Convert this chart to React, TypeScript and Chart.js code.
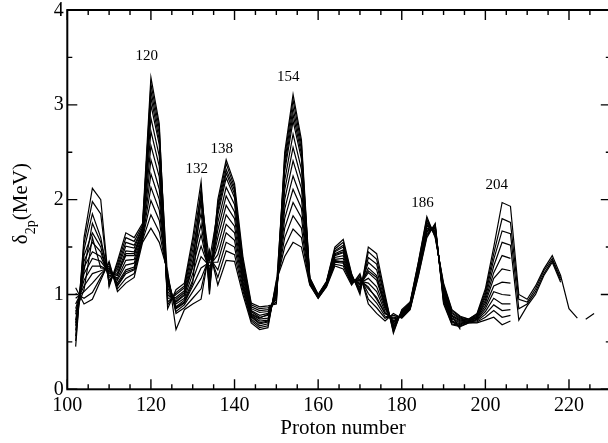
import React, { useEffect, useRef } from 'react';
import { Chart, registerables } from 'chart.js';

Chart.register(...registerables);

// Proton numbers (x categories)
const protonNumbers = [
  102, 104, 106, 108, 110, 112, 114, 116, 118, 120,
  122, 124, 126, 128, 130, 132, 134, 136, 138, 140,
  142, 144, 146, 148, 150, 152, 154, 156, 158, 160,
  162, 164, 166, 168, 170, 172, 174, 176, 178, 180,
  182, 184, 186, 188, 190, 192, 194, 196, 198, 200,
  202, 204, 206, 208, 210, 212, 214, 216, 218, 220,
  222, 224, 226,
];

// δ2p (MeV) series, one per neutron chain
const s0 = [
  0.45, 1.6, 2.12, 2.0, 1.08, 1.35, 1.65, 1.6, 1.75, 3.29,
  2.8, 0.85, 1.05, 1.12, 1.6, 2.19, 1.0, 2.0, 2.42, 2.17,
  1.4, 0.91, 0.87, 0.88, 0.9, 2.5, 3.11, 2.63, 1.18, 1.0,
  1.14, 1.5, 1.58, 1.22, 1.0, 1.5, 1.43, 1.0, 0.59, 0.84,
  0.92, 1.35, 1.82, 1.6, 1.12, 0.84, 0.77, 0.74, 0.8, 1.06,
  1.5, 1.97, 1.93, 1.0, 0.95, 1.09, 1.27, 1.41, 1.2, 0.85,
  0.75, null, null,
];
const s1 = [
  0.51, 1.54, 1.98, 1.85, 1.1, 1.32, 1.6, 1.56, 1.73, 3.15,
  2.69, 0.89, 1.02, 1.09, 1.54, 2.08, 1.04, 1.92, 2.32, 2.1,
  1.36, 0.89, 0.85, 0.86, 0.92, 2.4, 2.97, 2.53, 1.17, 1.0,
  1.13, 1.48, 1.55, 1.21, 1.02, 1.45, 1.37, 0.97, 0.61, 0.83,
  0.91, 1.34, 1.8, 1.61, 1.1, 0.83, 0.76, 0.74, 0.79, 1.03,
  1.43, 1.8, 1.76, 0.95, 0.92, 1.06, 1.25, 1.38, 1.17, null,
  null, 0.74, 0.8,
];
const s2 = [
  0.56, 1.47, 1.85, 1.6, 1.13, 1.29, 1.55, 1.52, 1.71, 3.0,
  2.58, 0.92, 1.0, 1.07, 1.47, 1.97, 1.08, 1.84, 2.23, 2.02,
  1.33, 0.87, 0.83, 0.84, 0.95, 2.3, 2.83, 2.43, 1.17, 0.99,
  1.13, 1.46, 1.52, 1.2, 1.04, 1.39, 1.32, 0.95, 0.63, 0.82,
  0.91, 1.32, 1.78, 1.63, 1.08, 0.81, 0.75, 0.73, 0.78, 1.0,
  1.37, 1.67, 1.64, 0.85, 0.9, 1.03, 1.22, 1.36, 1.15, null,
  null, null, null,
];
const s3 = [
  0.62, 1.41, 1.65, 1.5, 1.15, 1.26, 1.51, 1.49, 1.7, 2.86,
  2.46, 0.96, 0.97, 1.04, 1.41, 1.86, 1.13, 1.76, 2.13, 1.95,
  1.29, 0.85, 0.81, 0.82, 0.97, 2.2, 2.69, 2.32, 1.16, 0.99,
  1.12, 1.45, 1.5, 1.19, 1.06, 1.34, 1.26, 0.92, 0.65, 0.82,
  0.9, 1.31, 1.76, 1.64, 1.06, 0.8, 0.74, 0.73, 0.77, 0.97,
  1.3, 1.55, 1.52, 0.73, 0.88, 1.0, 1.2, 1.34, 1.13, null,
  null, null, null,
];
const s4 = [
  0.67, 1.35, 1.55, 1.45, 1.18, 1.23, 1.46, 1.45, 1.68, 2.72,
  2.35, 0.99, 0.95, 1.02, 1.35, 1.74, 1.17, 1.68, 2.04, 1.87,
  1.26, 0.83, 0.78, 0.8, 0.99, 2.1, 2.55, 2.22, 1.15, 0.99,
  1.12, 1.43, 1.47, 1.18, 1.08, 1.28, 1.2, 0.9, 0.67, 0.81,
  0.89, 1.3, 1.74, 1.65, 1.04, 0.78, 0.73, 0.72, 0.76, 0.94,
  1.23, 1.41, 1.38, null, null, null, null, null, null, null,
  null, null, null,
];
const s5 = [
  0.73, 1.29, 1.45, 1.4, 1.2, 1.21, 1.41, 1.41, 1.66, 2.57,
  2.24, 1.03, 0.92, 0.99, 1.29, 1.63, 1.21, 1.6, 1.94, 1.8,
  1.22, 0.82, 0.76, 0.78, 1.01, 2.0, 2.41, 2.12, 1.14, 0.98,
  1.11, 1.41, 1.44, 1.17, 1.1, 1.23, 1.15, 0.87, 0.68, 0.8,
  0.88, 1.28, 1.72, 1.67, 1.02, 0.77, 0.72, 0.72, 0.76, 0.91,
  1.17, 1.27, 1.25, null, null, null, null, null, null, null,
  null, null, null,
];
const s6 = [
  0.79, 1.22, 1.38, 1.35, 1.23, 1.17, 1.36, 1.37, 1.64, 2.42,
  2.11, 1.07, 0.9, 0.96, 1.22, 1.51, 1.26, 1.51, 1.84, 1.72,
  1.18, 0.79, 0.74, 0.75, 1.04, 1.9, 2.25, 2.01, 1.14, 0.98,
  1.11, 1.39, 1.41, 1.15, 1.12, 1.17, 1.08, 0.85, 0.71, 0.79,
  0.88, 1.27, 1.7, 1.68, 1.0, 0.75, 0.71, 0.72, 0.75, 0.88,
  1.09, 1.13, 1.12, null, null, null, null, null, null, null,
  null, null, null,
];
const s7 = [
  0.85, 1.15, 1.3, 1.3, 1.25, 1.15, 1.31, 1.33, 1.62, 2.27,
  2.0, 1.11, 0.87, 0.94, 1.15, 1.4, 1.3, 1.42, 1.74, 1.65,
  1.14, 0.78, 0.72, 0.73, 1.06, 1.8, 2.11, 1.91, 1.13, 0.98,
  1.1, 1.37, 1.38, 1.14, 1.14, 1.12, 1.03, 0.82, 0.72, 0.78,
  0.87, 1.25, 1.68, 1.7, 0.98, 0.74, 0.7, 0.71, 0.74, 0.85,
  1.03, 1.0, 0.99, null, null, null, null, null, null, null,
  null, null, null,
];
const s8 = [
  0.9, 1.09, 1.22, 1.25, 1.28, 1.12, 1.26, 1.29, 1.6, 2.13,
  1.89, 1.14, 0.85, 0.91, 1.09, 1.28, 1.34, 1.34, 1.65, 1.57,
  1.11, 0.76, 0.69, 0.71, 1.08, 1.7, 1.97, 1.81, 1.12, 0.97,
  1.1, 1.35, 1.35, 1.13, 1.16, 1.06, 0.97, 0.8, 0.74, 0.77,
  0.86, 1.24, 1.66, 1.71, 0.96, 0.72, 0.69, 0.71, 0.73, 0.82,
  0.96, 0.9, 0.9, null, null, null, null, null, null, null,
  null, null, null,
];
const s9 = [
  0.96, 1.03, 1.12, 1.22, 1.3, 1.09, 1.22, 1.26, 1.59, 1.99,
  1.78, 1.18, 0.82, 0.89, 1.03, 1.17, 1.39, 1.26, 1.55, 1.5,
  1.07, 0.74, 0.67, 0.69, 1.1, 1.6, 1.83, 1.7, 1.11, 0.97,
  1.09, 1.34, 1.33, 1.12, 1.18, 1.01, 0.91, 0.77, 0.76, 0.77,
  0.85, 1.23, 1.64, 1.72, 0.94, 0.71, 0.68, 0.71, 0.72, 0.79,
  0.89, 0.83, 0.84, null, null, null, null, null, null, null,
  null, null, null,
];
const s10 = [
  1.01, 0.96, 1.02, 1.18, 1.33, 1.06, 1.17, 1.22, 1.57, 1.84,
  1.66, 1.21, 0.8, 0.86, 0.96, 1.06, 1.43, 1.18, 1.46, 1.42,
  1.04, 0.72, 0.65, 0.67, 1.13, 1.5, 1.69, 1.6, 1.11, 0.96,
  1.09, 1.32, 1.3, 1.11, 1.2, 0.95, 0.86, 0.75, 0.78, 0.76,
  0.85, 1.21, 1.62, 1.74, 0.92, 0.69, 0.67, 0.7, 0.71, 0.76,
  0.83, 0.76, 0.78, null, null, null, null, null, null, null,
  null, null, null,
];
const s11 = [
  1.07, 0.9, 0.95, 1.15, 1.35, 1.03, 1.12, 1.18, 1.55, 1.7,
  1.55, 1.25, 0.63, 0.84, 0.9, 0.95, 1.47, 1.1, 1.36, 1.35,
  1.0, 0.7, 0.63, 0.65, 1.15, 1.4, 1.55, 1.5, 1.1, 0.96,
  1.08, 1.3, 1.27, 1.1, 1.22, 0.9, 0.8, 0.72, 0.8, 0.75,
  0.84, 1.2, 1.6, 1.75, 0.9, 0.68, 0.66, 0.7, 0.7, 0.73,
  0.76, 0.68, 0.72, null, null, null, null, null, null, null,
  null, null, null,
];
const s12 = [
  0.7, 1.25, 1.75, 1.55, 1.22, 1.2, 1.43, 1.43, 1.67, 3.22,
  2.75, 1.0, 0.93, 1.0, 1.3, 2.12, 1.2, 1.95, 2.38, 2.13,
  1.24, 0.8, 0.75, 0.79, 1.02, 2.45, 3.05, 2.58, 1.15, 0.98,
  1.11, 1.42, 1.45, 1.17, 1.11, 1.25, 1.18, 0.88, 0.7, 0.8,
  0.88, 1.29, 1.73, 1.66, 1.03, 0.78, 0.63, null, null, null,
  null, null, null, null, null, null, null, null, null, null,
  null, null, null,
];
const s13 = [
  0.82, 1.05, 1.6, 1.28, 1.27, 1.1, 1.24, 1.27, 1.61, 3.08,
  2.63, 1.16, 0.86, 0.92, 1.12, 2.03, 1.36, 1.88, 2.28, 2.06,
  1.1, 0.77, 0.7, 0.72, 1.07, 2.35, 2.9, 2.48, 1.12, 0.97,
  1.1, 1.36, 1.34, 1.13, 1.15, 1.08, 0.95, 0.8, 0.75, 0.78,
  0.86, 1.24, 1.67, 1.71, 0.97, 0.72, 0.65, null, null, null,
  null, null, null, null, null, null, null, null, null, null,
  null, null, null,
];

const seriesList = [s0, s1, s2, s3, s4, s5, s6, s7, s8, s9, s10, s11, s12, s13];

// Axis tick labels
const xTickLabels = [100, 120, 140, 160, 180, 200, 220];
const yTickLabels = [0, 1, 2, 3, 4];

// Magic-number annotations (text, x data, y data)
const peakLabels = ['120', '132', '138', '154', '186', '204'];
const peakLabelX = [119.0, 130.95, 136.93, 152.86, 184.95, 202.7];
const peakLabelY = [3.53, 2.33, 2.54, 3.3, 1.98, 2.17];

const X_MIN = 100;
const X_MAX = 230;
const Y_MIN = 0;
const Y_MAX = 4;

const SERIF = '"Liberation Serif", "Times New Roman", serif';

const framePlugin = {
  id: 'framePlugin',
  afterDraw(chart: any) {
    const { ctx } = chart;
    const xs = chart.scales.x;
    const ys = chart.scales.y;
    const L = xs.getPixelForValue(X_MIN);
    const R = xs.getPixelForValue(X_MAX);
    const T = ys.getPixelForValue(Y_MAX);
    const B = ys.getPixelForValue(Y_MIN);
    ctx.save();
    ctx.strokeStyle = '#000';
    ctx.fillStyle = '#000';
    ctx.lineWidth = 2;
    ctx.strokeRect(L, T, R - L, B - T);

    ctx.lineWidth = 1.4;
    ctx.beginPath();
    for (let v = X_MIN; v <= X_MAX; v += 5) {
      const px = xs.getPixelForValue(v);
      const len = v % 20 === 0 ? 10 : 5;
      ctx.moveTo(px, B);
      ctx.lineTo(px, B - len);
      ctx.moveTo(px, T);
      ctx.lineTo(px, T + len);
    }
    for (let k = 0; k <= 8; k++) {
      const v = k * 0.5;
      const py = ys.getPixelForValue(v);
      const len = k % 2 === 0 ? 10 : 5;
      ctx.moveTo(L, py);
      ctx.lineTo(L + len, py);
      ctx.moveTo(R, py);
      ctx.lineTo(R - len, py);
    }
    ctx.stroke();

    // tick labels
    ctx.font = `20px ${SERIF}`;
    ctx.textAlign = 'center';
    ctx.textBaseline = 'alphabetic';
    xTickLabels.forEach((t) => {
      ctx.fillText(String(t), xs.getPixelForValue(t), B + 21.5);
    });
    ctx.textAlign = 'right';
    yTickLabels.forEach((t) => {
      ctx.fillText(String(t), L - 3.5, ys.getPixelForValue(t) + 5.5);
    });

    // x title
    ctx.textAlign = 'center';
    ctx.font = `21px ${SERIF}`;
    ctx.fillText('Proton number', 343, 434);

    // y title: δ_{2p}(MeV), rotated
    const mainFont = `21px ${SERIF}`;
    const subFont = `14px ${SERIF}`;
    ctx.font = mainFont;
    const wD = ctx.measureText('δ').width;
    const wM = ctx.measureText('(MeV)').width;
    ctx.font = subFont;
    const wS = ctx.measureText('2p').width;
    const total = wD + wS + wM;
    const cy = (T + B) / 2 + 4;
    ctx.save();
    ctx.translate(27, cy + total / 2);
    ctx.rotate(-Math.PI / 2);
    ctx.textAlign = 'left';
    ctx.font = mainFont;
    ctx.fillText('δ', 0, 0);
    ctx.font = subFont;
    ctx.fillText('2p', wD, 8);
    ctx.font = mainFont;
    ctx.fillText('(MeV)', wD + wS, 0);
    ctx.restore();

    // peak annotations
    ctx.font = `15px ${SERIF}`;
    ctx.textAlign = 'center';
    peakLabels.forEach((t, i) => {
      ctx.fillText(t, xs.getPixelForValue(peakLabelX[i]), ys.getPixelForValue(peakLabelY[i]) + 5);
    });
    ctx.restore();
  },
};

export default function App() {
  const ref = useRef<HTMLCanvasElement>(null);
  useEffect(() => {
    const canvas = ref.current;
    if (!canvas) return;
    const chart = new Chart(canvas, {
      type: 'line',
      data: {
        datasets: seriesList.map((s, k) => ({
          label: `chain ${k + 1}`,
          data: protonNumbers.map((z, i) => ({ x: z, y: s[i] })),
          borderColor: '#000',
          borderWidth: 1.2,
          pointRadius: 0,
          fill: false,
          tension: 0,
          spanGaps: false,
        })),
      },
      options: {
        responsive: false,
        animation: false,
        devicePixelRatio: 1,
        layout: { padding: { left: 0, top: 10, right: 9.2, bottom: 0 } },
        plugins: { legend: { display: false }, tooltip: { enabled: false } },
        scales: {
          x: {
            type: 'linear',
            min: X_MIN,
            max: X_MAX,
            grid: { display: false },
            border: { display: false },
            ticks: { display: false },
            afterFit: (s: any) => {
              s.height = 53.7;
            },
          },
          y: {
            type: 'linear',
            min: Y_MIN,
            max: Y_MAX,
            grid: { display: false },
            border: { display: false },
            ticks: { display: false },
            afterFit: (s: any) => {
              s.width = 67.3;
            },
          },
        },
      },
      plugins: [framePlugin],
    } as any);
    return () => chart.destroy();
  }, []);
  return (
    <div
      style={{
        position: 'fixed',
        left: 0,
        top: 0,
        width: 608,
        height: 443,
        overflow: 'hidden',
        background: '#fff',
      }}
    >
      <canvas ref={ref} width={620} height={443} style={{ display: 'block' }} />
    </div>
  );
}
